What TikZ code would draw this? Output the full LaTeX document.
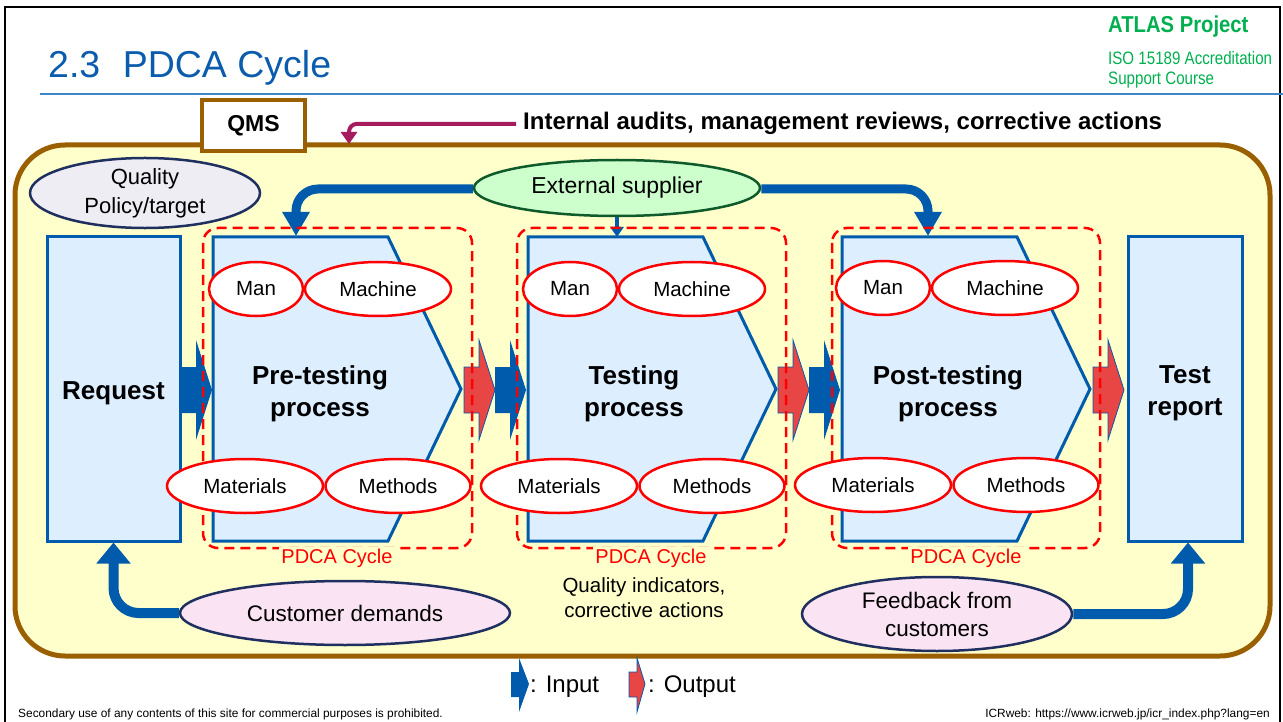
\documentclass[tikz,border=0pt]{standalone}
\usepackage{fontspec}
\setmainfont{Liberation Sans}
\usetikzlibrary{arrows.meta,shapes.geometric}
\definecolor{titleblue}{HTML}{0B5CAD}
\definecolor{lineblue}{HTML}{3F86C8}
\definecolor{abblue}{HTML}{005BAC}
\definecolor{boxfill}{HTML}{DDEEFF}
\definecolor{yel}{HTML}{FFFFCC}
\definecolor{qmsbrown}{HTML}{9A5F00}
\definecolor{magarrow}{HTML}{A61B5E}
\definecolor{agreen}{HTML}{00B050}
\definecolor{navy}{HTML}{1F3060}
\definecolor{polfill}{HTML}{EDEDF3}
\definecolor{pinkfill}{HTML}{FAE3F3}
\definecolor{extfill}{HTML}{CCFFCC}
\definecolor{extborder}{HTML}{0F5A2A}
\definecolor{redfill}{HTML}{E84545}
\newcommand\blockarr[3]{%
  \fill[#3] (#1-31,#2-23) -- (#1-16,#2-23) -- (#1-16,#2-50) -- (#1,#2) -- (#1-16,#2+50) -- (#1-16,#2+23) -- (#1-31,#2+23) -- cycle;}
\newcommand\procshape[1]{%
  \draw[abblue,line width=3,fill=boxfill,line join=miter] (#1,237) -- (#1+175,237) -- (#1+248,389) -- (#1+175,541) -- (#1,541) -- cycle;}
\begin{document}
\begin{tikzpicture}[x=1pt,y=-1pt,
  elab/.style={ellipse,draw=red,line width=2.5,fill=white,inner sep=0pt,minimum height=54,font=\fontsize{20.5}{24}\selectfont},
  pdcabox/.style={draw=red,line width=2.5,dash pattern=on 10pt off 6pt,rounded corners=15},
  pdcalab/.style={text=red,fill=yel,inner sep=2pt,font=\fontsize{20}{24}\selectfont,anchor=base},
  proctext/.style={font=\bfseries\fontsize{26}{32}\selectfont,align=center},
  bluebox/.style={draw=abblue,line width=3,fill=boxfill},
  bigarrow/.style={abblue,line width=10,rounded corners=25,-{Triangle[width=33pt,length=21pt]}},
  extarrow/.style={abblue,line width=9,rounded corners=22,-{Triangle[width=26pt,length=24pt]}},
  bigell/.style={ellipse,draw=navy,line width=2.5,inner sep=0pt,font=\fontsize{22.5}{28}\selectfont,align=center},
  inarr/.style={abblue},
  outarr/.style={fill=redfill,draw=abblue,line width=0.8}
]
\useasboundingbox (0,0) rectangle (1283,722);
\fill[white] (0,0) rectangle (1283,722);
\draw[black,line width=2] (5,7) rectangle (1280,760);

% header
\node[anchor=base west,inner sep=0,text=titleblue,font=\fontsize{37.5}{40}\selectfont] (title) at (48,78) {2.3\hspace{0.6em}PDCA Cycle};
\draw[lineblue,line width=1.5] (40,94) -- (1283,94);
\node[anchor=base west,inner sep=0,text=agreen,font=\bfseries\fontsize{23}{26}\selectfont] (atlas) at (1108,33) {\scalebox{0.88}[1]{ATLAS Project}};
\node[anchor=base west,inner sep=0,text=agreen,font=\fontsize{18}{21}\selectfont] (iso) at (1108,65) {\scalebox{0.84}[1]{ISO 15189 Accreditation}};
\node[anchor=base west,inner sep=0,text=agreen,font=\fontsize{18}{21}\selectfont] (course) at (1108,85) {\scalebox{0.84}[1]{Support Course}};

% QMS area
\draw[qmsbrown,line width=5,fill=yel,rounded corners=50] (15,145) rectangle (1270,656);
\node[draw=qmsbrown,line width=3.5,fill=white,minimum width=103,minimum height=51,inner sep=0,font=\bfseries\fontsize{23}{26}\selectfont] (qms) at (253.5,125.5) {QMS};
\node[anchor=base west,inner sep=0,font=\bfseries\fontsize{24}{28}\selectfont] (audit) at (523,130) {Internal audits, management reviews, corrective actions};
\coordinate (qmsarr) at (349,144);
\draw[magarrow,line width=4,rounded corners=8,-{Triangle[width=16pt,length=12pt]}] ([xshift=-7]audit.west) -| (qmsarr);

% ellipses top
\node[bigell,fill=polfill,minimum width=230,minimum height=68,font=\fontsize{22}{28}\selectfont] (policy) at (145,193) {Quality\\[1pt]Policy/target};
\node[ellipse,draw=extborder,line width=2.5,fill=extfill,inner sep=0,minimum width=286,minimum height=56,font=\fontsize{23}{26}\selectfont] (ext) at (617,188) {External supplier};

% request and report boxes
\node[bluebox,minimum width=133,minimum height=304,inner sep=0] (request) at (113.5,389) {};
\node[proctext] (reqtext) at ([yshift=-4]request.center) {Request};
\node[bluebox,minimum width=114,minimum height=304,inner sep=0] (report) at (1185,389) {};
\node[proctext] (reptext) at ([yshift=-4]report.center) {Test\\report};

% process shapes
\procshape{213}
\procshape{528}
\procshape{842}
\node[proctext] (pre) at (320,394) {Pre-testing\\process};
\node[proctext] (test) at (634,394) {Testing\\process};
\node[proctext] (post) at (948,394) {Post-testing\\process};

% block arrows
\blockarr{212}{390}{inarr}
\blockarr{495}{390}{outarr}
\blockarr{526}{390}{inarr}
\blockarr{809}{390}{outarr}
\blockarr{840}{390}{inarr}
\blockarr{1124}{390}{outarr}

% external supplier arrows
\coordinate (preIn) at (296,236);
\coordinate (postIn) at (928,236);
\coordinate (testIn) at (617,237);
\draw[extarrow] ([yshift=-1]ext.west) -| (preIn);
\draw[extarrow] ([yshift=-1]ext.east) -| (postIn);
\draw[abblue,line width=4,-{Triangle[width=13pt,length=10pt]}] (ext.south) -- (testIn);

% PDCA boxes
\draw[pdcabox] (203,228) rectangle (472,548);
\draw[pdcabox] (517,228) rectangle (786,548);
\draw[pdcabox] (832,228) rectangle (1100,548);
\node[pdcalab] (pdca1) at (337,563) {PDCA Cycle};
\node[pdcalab] (pdca2) at (651,563) {PDCA Cycle};
\node[pdcalab] (pdca3) at (966,563) {PDCA Cycle};

% 4M ellipses
\node[elab,minimum width=94] (man1) at (256,289) {Man};
\node[elab,minimum width=146] (mach1) at (378,289) {Machine};
\node[elab,minimum width=156] (mat1) at (245,486) {Materials};
\node[elab,minimum width=145] (meth1) at (398,486) {Methods};
\node[elab,minimum width=94] (man2) at (570,289) {Man};
\node[elab,minimum width=146] (mach2) at (692,289) {Machine};
\node[elab,minimum width=156] (mat2) at (559,486) {Materials};
\node[elab,minimum width=145] (meth2) at (712,486) {Methods};
\node[elab,minimum width=94] (man3) at (883,288) {Man};
\node[elab,minimum width=146] (mach3) at (1005,288) {Machine};
\node[elab,minimum width=156] (mat3) at (873,485) {Materials};
\node[elab,minimum width=145] (meth3) at (1026,485) {Methods};

% bottom
\node[align=center,font=\fontsize{20.5}{25}\selectfont] (qi) at (644,598) {Quality indicators,\\corrective actions};
\node[bigell,fill=pinkfill,minimum width=330,minimum height=64] (cust) at (345,613) {Customer demands};
\node[bigell,fill=pinkfill,minimum width=270,minimum height=74] (fb) at (937,614) {Feedback from\\customers};
\draw[bigarrow] (cust.west) -| (request.south);
\draw[bigarrow] (fb.east) -| ([xshift=3]report.south);

% legend
\fill[abblue] (511,672) -- (519,672) -- (519,658) -- (529,684) -- (519,712) -- (519,697) -- (511,697) -- cycle;
\node[anchor=base west,inner sep=0,font=\fontsize{24}{28}\selectfont] (inlab) at (530,692) {: Input};
\draw[fill=redfill,draw=abblue,line width=0.8] (629,672) -- (637,672) -- (637,658) -- (645,684) -- (637,712) -- (637,697) -- (629,697) -- cycle;
\node[anchor=base west,inner sep=0,font=\fontsize{24}{28}\selectfont] (outlab) at (648,692) {: Output};

% footer
\node[anchor=base west,inner sep=0,font=\fontsize{11.9}{14}\selectfont] (foot1) at (18,717) {Secondary use of any contents of this site for commercial purposes is prohibited.};
\node[anchor=base east,inner sep=0,font=\fontsize{11.9}{14}\selectfont] (foot2) at (1270,717) {ICRweb: https://www.icrweb.jp/icr\_index.php?lang=en};
\end{tikzpicture}
\end{document}
